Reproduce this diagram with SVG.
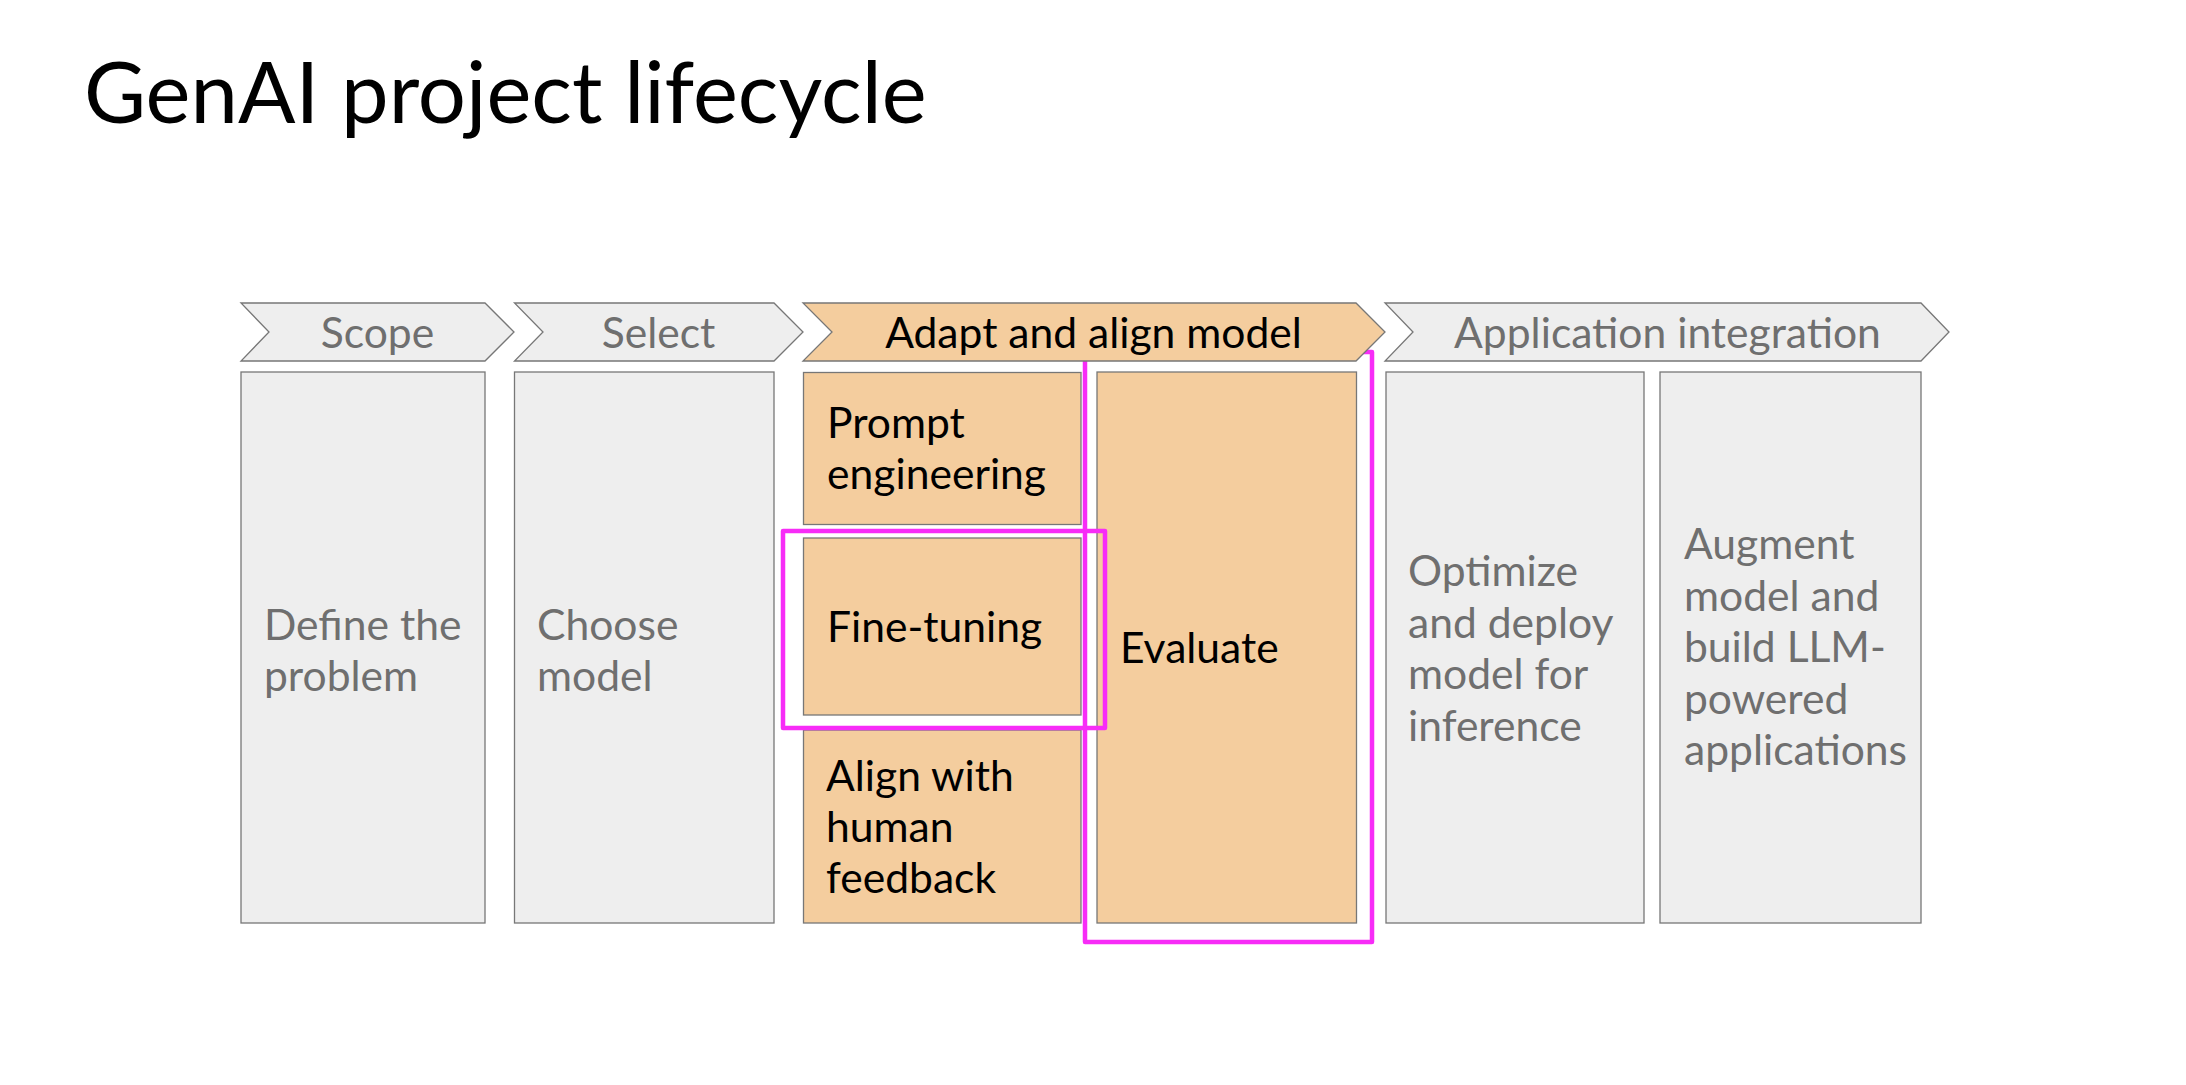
<svg xmlns="http://www.w3.org/2000/svg" width="2186" height="1085" viewBox="0 0 2186 1085">
<style>
  text { font-family: Lato, "Liberation Sans", sans-serif; }
  .title { font-size: 85px; fill: #000; }
  .lbl { font-size: 42.6px; }
  .gray-shape { fill: #eeeeee; stroke: #777777; stroke-width: 1.3; }
  .orange-shape { fill: #f4cd9e; stroke: #777777; stroke-width: 1.3; }
  .gray-text { fill: #6f6f6f; }
  .dark-text { fill: #000000; }
  .hl { fill: none; stroke: #f72cf7; stroke-width: 4.5; stroke-linejoin: round; }
</style>
<rect width="2186" height="1085" fill="#ffffff"/>
<text class="title" x="84" y="122.5">GenAI project lifecycle</text>

<g id="box-define">
  <rect class="gray-shape" x="241" y="372" width="244" height="551"/>
  <text class="lbl gray-text" x="264" y="640"><tspan x="264">Define the</tspan><tspan x="264" dy="51">problem</tspan></text>
</g>
<g id="box-choose">
  <rect class="gray-shape" x="514.5" y="372" width="259.5" height="551"/>
  <text class="lbl gray-text" x="537" y="640"><tspan x="537">Choose</tspan><tspan x="537" dy="51">model</tspan></text>
</g>
<g id="box-prompt">
  <rect class="orange-shape" x="803.5" y="372.5" width="277.5" height="152"/>
  <text class="lbl dark-text" x="827" y="438"><tspan x="827">Prompt</tspan><tspan x="827" dy="51">engineering</tspan></text>
</g>
<g id="box-finetune">
  <rect class="orange-shape" x="803.5" y="538" width="277.5" height="177"/>
  <text class="lbl dark-text" x="827" y="642">Fine-tuning</text>
</g>
<g id="box-align">
  <rect class="orange-shape" x="803.5" y="730" width="277.5" height="193"/>
  <text class="lbl dark-text" x="826" y="791"><tspan x="826">Align with</tspan><tspan x="826" dy="51">human</tspan><tspan x="826" dy="51">feedback</tspan></text>
</g>
<g id="box-evaluate">
  <rect class="orange-shape" x="1097" y="372" width="259.5" height="551"/>
  <text class="lbl dark-text" x="1120" y="663">Evaluate</text>
</g>
<g id="box-optimize">
  <rect class="gray-shape" x="1386" y="372" width="258" height="551"/>
  <text class="lbl gray-text" x="1408" y="586"><tspan x="1408">Optimize</tspan><tspan x="1408" dy="51.5">and deploy</tspan><tspan x="1408" dy="51.5">model for</tspan><tspan x="1408" dy="51.5">inference</tspan></text>
</g>
<g id="box-augment">
  <rect class="gray-shape" x="1660" y="372" width="261" height="551"/>
  <text class="lbl gray-text" x="1684" y="559"><tspan x="1684">Augment</tspan><tspan x="1684" dy="51.5">model and</tspan><tspan x="1684" dy="51.5">build LLM-</tspan><tspan x="1684" dy="51.5">powered</tspan><tspan x="1684" dy="51.5">applications</tspan></text>
</g>

<g id="highlights">
  <rect class="hl" x="1085" y="352" width="287" height="590"/>
  <rect class="hl" x="783" y="531" width="322" height="197"/>
</g>

<g id="stage-scope">
  <path class="gray-shape" d="M241,303 L485,303 L514,332 L485,361 L241,361 L269,332 Z"/>
  <text class="lbl gray-text" x="377.5" y="348" text-anchor="middle">Scope</text>
</g>
<g id="stage-select">
  <path class="gray-shape" d="M514.5,303 L774,303 L803,332 L774,361 L514.5,361 L543,332 Z"/>
  <text class="lbl gray-text" x="658.5" y="348" text-anchor="middle">Select</text>
</g>
<g id="stage-adapt">
  <path class="orange-shape" d="M803,303 L1356,303 L1385,332 L1356,361 L803,361 L832,332 Z"/>
  <text class="lbl dark-text" x="1093.5" y="348" text-anchor="middle">Adapt and align model</text>
</g>
<g id="stage-application">
  <path class="gray-shape" d="M1385,303 L1921,303 L1949,332 L1921,361 L1385,361 L1413,332 Z"/>
  <text class="lbl gray-text" x="1667.5" y="348" text-anchor="middle">Application integration</text>
</g>

<g id="connectors"/>
</svg>
